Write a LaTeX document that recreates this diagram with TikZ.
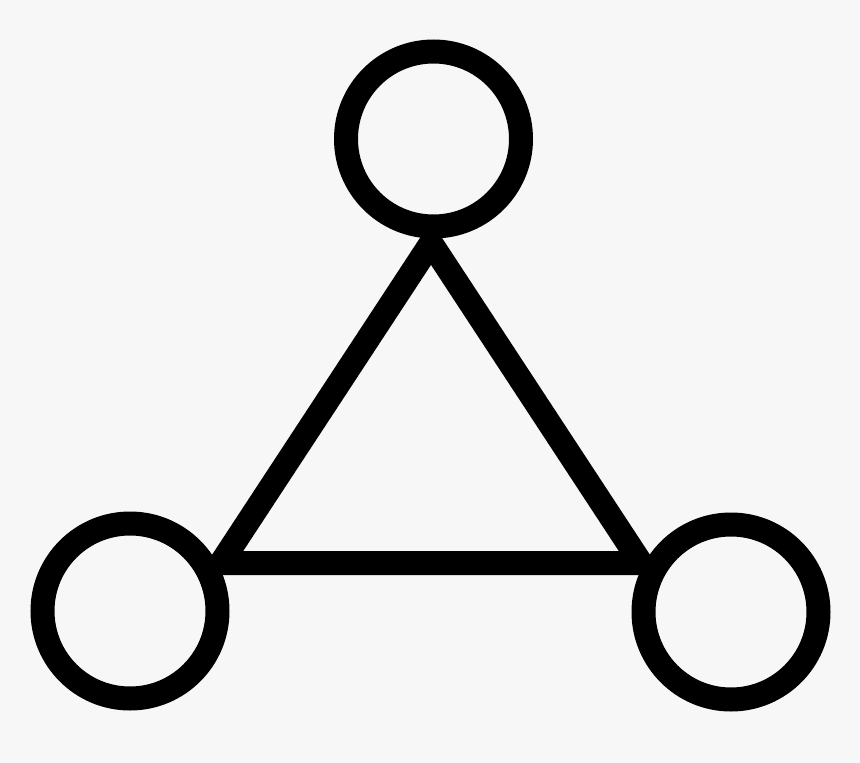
\documentclass[tikz,border=0pt]{standalone}
\definecolor{bg}{HTML}{F7F7F7}
\begin{document}
\begin{tikzpicture}[x=1pt,y=-1pt,
  ring/.style={circle, draw=black, fill=bg, line width=24pt, minimum size=175pt, inner sep=0pt, outer sep=0pt},
  edge/.style={draw=black, line width=24pt, line join=miter}]
\fill[bg] (0,0) rectangle (860,763);
\useasboundingbox (0,0) rectangle (860,763);
\coordinate (A) at (431,243);
\coordinate (B) at (221,563);
\coordinate (C) at (641,563);
\draw[edge] (A) -- (B) -- (C) -- cycle;
\node[ring] (top) at (433.5,139) {};
\node[ring] (left) at (130,611) {};
\node[ring] (right) at (731,612) {};
\end{tikzpicture}
\end{document}
